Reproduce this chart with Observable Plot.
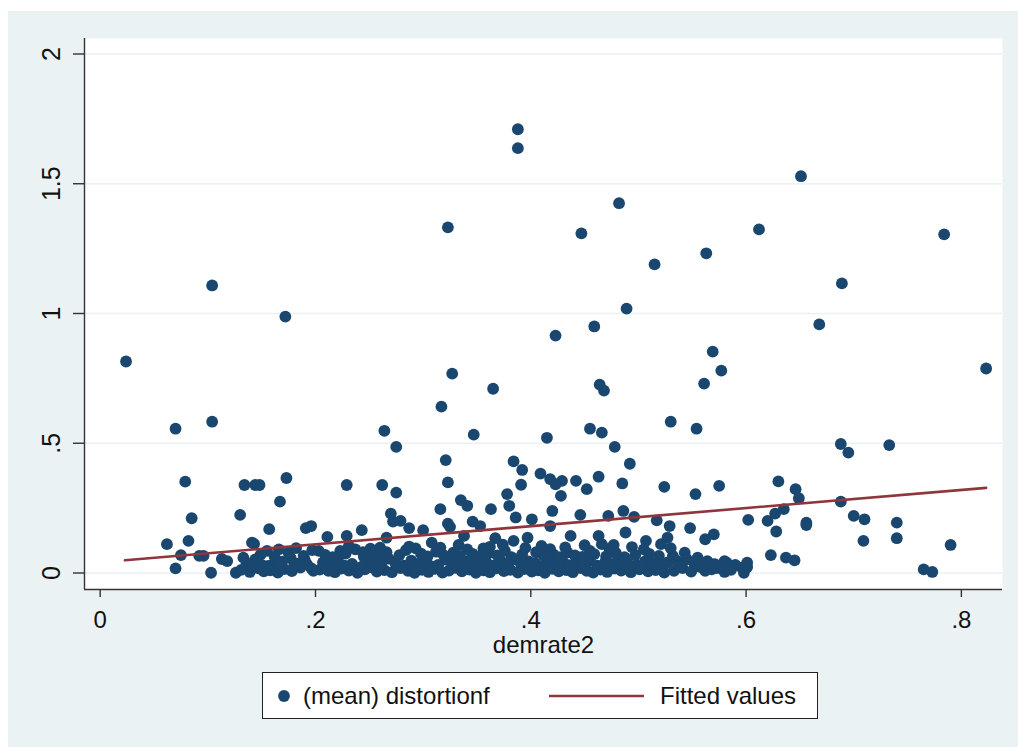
<!DOCTYPE html>
<html><head><meta charset="utf-8">
<script src="https://cdn.jsdelivr.net/npm/d3@7"></script>
<script src="https://cdn.jsdelivr.net/npm/@observablehq/plot@0.6"></script>
<style>
body{margin:0;background:#fff;font-family:"Liberation Sans",Arial,sans-serif;}
#wrap{position:absolute;left:8px;top:11px;width:1010px;height:736px;background:#eaf2f3;}
#chart{position:absolute;left:0;top:0;}
#legend{position:absolute;left:254px;top:661px;width:554px;height:45px;border:1px solid #222;background:#fff;font-size:24px;color:#111;}
#legend .item{position:absolute;top:0;height:45px;line-height:45px;white-space:nowrap;}
</style></head>
<body>
<div id="wrap"><div id="chart"></div><div id="legend"></div></div>
<script>
// demrate2 (x) vs (mean) distortionf (y) pairs
const upperPoints = [
 [0.024,0.815],[0.104,1.108],[0.172,0.988],[0.104,0.583],[0.070,0.556],[0.323,1.332],[0.388,1.710],[0.388,1.637],
 [0.482,1.425],[0.447,1.309],[0.515,1.189],[0.651,1.529],[0.612,1.324],[0.563,1.232],[0.784,1.305],[0.689,1.116],
 [0.489,1.019],[0.668,0.958],[0.459,0.950],[0.423,0.915],[0.569,0.853],[0.823,0.788],[0.577,0.780],[0.327,0.768],
 [0.561,0.730],[0.464,0.726],[0.468,0.703],[0.365,0.710],[0.317,0.641],[0.530,0.583],[0.415,0.521],[0.347,0.533],
 [0.554,0.556],[0.455,0.556],[0.466,0.541],[0.264,0.548],[0.688,0.497],[0.733,0.493],[0.695,0.464],[0.275,0.486],
 [0.478,0.486],[0.492,0.421],[0.321,0.435],[0.384,0.430],[0.392,0.397]
];
const middlePoints = [
 [0.079,0.352],[0.062,0.111],[0.070,0.018],[0.075,0.069],[0.082,0.124],[0.085,0.211],[0.092,0.066],[0.096,0.066],
 [0.103,0.001],[0.113,0.054],[0.118,0.046],[0.126,0.001],[0.130,0.224],[0.134,0.339],[0.144,0.339],[0.148,0.339],
 [0.141,0.117],[0.133,0.059],[0.157,0.169],[0.167,0.275],[0.173,0.366],[0.155,0.085],[0.166,0.091],[0.161,0.034],
 [0.177,0.057],[0.191,0.173],[0.196,0.181],[0.192,0.034],[0.198,0.008],[0.211,0.139],[0.203,0.085],[0.212,0.008],
 [0.229,0.339],[0.229,0.143],[0.223,0.085],[0.237,0.091],[0.243,0.165],[0.262,0.339],[0.270,0.229],[0.275,0.310],
 [0.260,0.098],[0.266,0.136],[0.279,0.201],[0.272,0.198],[0.287,0.173],[0.300,0.165],[0.323,0.349],[0.316,0.246],
 [0.323,0.190],[0.325,0.178],[0.335,0.281],[0.341,0.259],[0.338,0.143],[0.346,0.198],[0.353,0.181],[0.363,0.246],
 [0.367,0.134],[0.378,0.304],[0.380,0.259],[0.386,0.214],[0.401,0.207],[0.391,0.340],[0.409,0.383],[0.418,0.362],
 [0.423,0.342],[0.429,0.355],[0.428,0.297],[0.420,0.239],[0.418,0.181],[0.437,0.143],[0.442,0.355],[0.452,0.323],
 [0.446,0.224],[0.463,0.371],[0.485,0.345],[0.472,0.220],[0.486,0.239],[0.496,0.216],[0.463,0.143],[0.477,0.108],
 [0.488,0.156],[0.524,0.332],[0.517,0.203],[0.529,0.181],[0.527,0.136],[0.548,0.173],[0.553,0.304],[0.562,0.130],
 [0.570,0.149],[0.575,0.336],[0.507,0.124],[0.505,0.091],[0.521,0.111],[0.519,0.066],[0.293,0.095],[0.308,0.117],
 [0.341,0.091],[0.356,0.095],[0.384,0.124],[0.397,0.136],[0.421,0.072],[0.455,0.085],[0.143,0.112],[0.244,0.080],
 [0.328,0.078],[0.466,0.111],[0.536,0.046],[0.545,0.053],[0.555,0.059],[0.564,0.046],[0.571,0.034],[0.582,0.040],
 [0.559,0.040],[0.568,0.034],[0.562,0.008],[0.568,0.014],[0.580,0.046],[0.580,0.004],[0.602,0.205],[0.598,0.001],
 [0.601,0.023],[0.601,0.040],[0.620,0.201],[0.627,0.229],[0.635,0.246],[0.628,0.160],[0.630,0.353],[0.623,0.069],
 [0.637,0.059],[0.645,0.049],[0.646,0.323],[0.649,0.288],[0.656,0.194],[0.656,0.185],[0.688,0.275],[0.700,0.220],
 [0.710,0.207],[0.709,0.124],[0.740,0.194],[0.740,0.134],[0.765,0.014],[0.773,0.004],[0.790,0.108]
];
const lowerPoints = [
 [0.131,0.012],[0.139,0.004],[0.147,0.018],[0.152,0.006],[0.158,0.010],[0.165,0.002],[0.171,0.015],[0.178,0.007],
 [0.186,0.021],[0.204,0.013],[0.218,0.003],[0.224,0.017],[0.231,0.009],[0.239,0.001],[0.246,0.014],[0.252,0.022],
 [0.257,0.005],[0.264,0.011],[0.271,0.003],[0.279,0.019],[0.286,0.008],[0.292,0.001],[0.299,0.012],[0.305,0.004],
 [0.311,0.016],[0.318,0.002],[0.324,0.009],[0.330,0.020],[0.336,0.006],[0.343,0.013],[0.349,0.001],[0.356,0.010],
 [0.362,0.003],[0.368,0.018],[0.375,0.007],[0.381,0.012],[0.388,0.002],[0.394,0.015],[0.401,0.005],[0.407,0.010],
 [0.413,0.001],[0.420,0.016],[0.426,0.006],[0.433,0.011],[0.439,0.003],[0.446,0.019],[0.452,0.008],[0.458,0.002],
 [0.465,0.013],[0.471,0.004],[0.478,0.017],[0.484,0.009],[0.493,0.003],[0.501,0.014],[0.509,0.006],[0.516,0.011],
 [0.524,0.002],[0.533,0.008],[0.541,0.019],[0.549,0.005],
 [0.136,0.038],[0.144,0.052],[0.150,0.031],[0.169,0.044],[0.183,0.036],[0.190,0.050],[0.207,0.041],[0.214,0.029],
 [0.221,0.047],[0.234,0.035],[0.249,0.043],[0.261,0.032],[0.268,0.055],[0.274,0.040],[0.282,0.028],[0.289,0.048],
 [0.296,0.036],[0.303,0.044],[0.314,0.031],[0.321,0.052],[0.328,0.039],[0.333,0.027],[0.340,0.046],[0.347,0.034],
 [0.353,0.051],[0.359,0.040],[0.366,0.029],[0.372,0.047],[0.378,0.036],[0.385,0.053],[0.391,0.032],[0.398,0.045],
 [0.404,0.038],[0.411,0.027],[0.417,0.049],[0.423,0.035],[0.430,0.043],[0.436,0.030],[0.443,0.051],[0.449,0.037],
 [0.455,0.046],[0.462,0.028],[0.469,0.041],[0.475,0.034],[0.481,0.049],[0.490,0.038],[0.498,0.030],[0.506,0.045],
 [0.513,0.036],[0.521,0.027],[0.527,0.041],[0.552,0.037],[0.590,0.031],[0.596,0.021],
 [0.149,0.071],[0.162,0.063],[0.175,0.078],[0.189,0.066],[0.197,0.088],[0.209,0.070],[0.216,0.061],[0.228,0.075],
 [0.245,0.062],[0.253,0.072],[0.259,0.066],[0.266,0.080],[0.278,0.069],[0.284,0.088],[0.298,0.075],[0.304,0.064],
 [0.312,0.082],[0.319,0.069],[0.334,0.066],[0.346,0.074],[0.352,0.063],[0.361,0.077],[0.369,0.068],[0.376,0.085],
 [0.382,0.061],[0.392,0.072],[0.405,0.080],[0.412,0.066],[0.418,0.092],[0.427,0.061],[0.434,0.079],[0.441,0.068],
 [0.448,0.062],[0.459,0.073],[0.470,0.064],[0.479,0.077],[0.487,0.061],[0.497,0.069],[0.510,0.074],[0.532,0.066],
 [0.543,0.078],
 [0.142,0.024],[0.156,0.027],[0.180,0.025],[0.196,0.019],[0.210,0.022],[0.227,0.028],[0.243,0.024],[0.255,0.030],
 [0.277,0.026],[0.294,0.023],[0.308,0.025],[0.327,0.022],[0.339,0.029],[0.351,0.021],[0.364,0.026],[0.379,0.023],
 [0.396,0.026],[0.409,0.021],[0.424,0.025],[0.437,0.022],[0.450,0.027],[0.463,0.021],[0.476,0.026],[0.489,0.022],
 [0.503,0.024],[0.518,0.021],[0.537,0.027],[0.557,0.024],[0.573,0.019],[0.586,0.012],
 [0.182,0.096],[0.231,0.104],[0.251,0.094],[0.287,0.102],[0.316,0.098],[0.333,0.108],[0.362,0.101],[0.374,0.109],
 [0.395,0.097],[0.410,0.104],[0.432,0.099],[0.450,0.107],[0.473,0.094],[0.494,0.100],[0.530,0.096]
];
const fittedX = [0.023, 0.823];
const fittedY = [0.049, 0.328];
const xTicks = [0, 0.2, 0.4, 0.6, 0.8];
const xTickLabels = ["0", ".2", ".4", ".6", ".8"];
const yTicks = [0, 0.5, 1, 1.5, 2];
const yTickLabels = ["0", ".5", "1", "1.5", "2"];
const seriesLabels = ["(mean) distortionf", "Fitted values"];
const xTitle = "demrate2";

const dotColor = "#1a476f", lineColor = "#90353b", bg = "#eaf2f3";
const pts = [...upperPoints, ...middlePoints, ...lowerPoints].map(([x, y]) => ({x, y}));
const fit = fittedX.map((x, i) => ({x, y: fittedY[i]}));
const xDom = [-0.01458, 0.8382], yDom = [-0.0636, 2.0597];
const xLab = xTicks.map((v, i) => ({v, t: xTickLabels[i]}));
const yLab = yTicks.map((v, i) => ({v, t: yTickLabels[i]}));

const chart = Plot.plot({
  width: 1010, height: 660,
  marginTop: 27, marginLeft: 76, marginRight: 16, marginBottom: 82,
  style: {background: "transparent", fontFamily: "'Liberation Sans', Arial, sans-serif", fontSize: "24px", color: "#111"},
  x: {domain: xDom},
  y: {domain: yDom},
  marks: [
    Plot.frame({fill: "white", stroke: null}),
    Plot.gridY(yTicks, {stroke: bg, strokeOpacity: 1, strokeWidth: 1.6}),
    Plot.dot(pts, {x: "x", y: "y", r: 5.9, fill: dotColor, stroke: null}),
    Plot.line(fit, {x: "x", y: "y", stroke: lineColor, strokeWidth: 2.6}),
    Plot.ruleX([xDom[0]], {stroke: "#333", strokeWidth: 1.4}),
    Plot.ruleY([yDom[0]], {stroke: "#333", strokeWidth: 1.4}),
    Plot.axisX(xTicks, {tickSize: 8, tickFormat: () => "", label: null, stroke: "#333", strokeWidth: 1.4}),
    Plot.axisY(yTicks, {tickSize: 11, tickFormat: () => "", label: null, stroke: "#333", strokeWidth: 1.4}),
    Plot.text(xLab, {x: "v", text: "t", frameAnchor: "bottom", dy: 31, lineAnchor: "middle", fontSize: 24, fill: "#111"}),
    Plot.text(yLab, {y: "v", text: "t", frameAnchor: "left", dx: -32.5, rotate: -90, textAnchor: "middle", lineAnchor: "middle", fontSize: 25, fill: "#111"}),
    Plot.text([xTitle], {text: d => d, frameAnchor: "bottom", dy: 56, lineAnchor: "middle", fontSize: 24, fill: "#111"})
  ]
});
document.getElementById("chart").appendChild(chart);

const lg = document.getElementById("legend");
lg.innerHTML =
  `<svg class="item" style="left:14px" width="16" height="45"><circle cx="7" cy="23" r="5.9" fill="${dotColor}"/></svg>` +
  `<span class="item" style="left:40px">${seriesLabels[0]}</span>` +
  `<svg class="item" style="left:286px" width="96" height="45"><line x1="0" x2="95" y1="23" y2="23" stroke="${lineColor}" stroke-width="2.6"/></svg>` +
  `<span class="item" style="left:397px">${seriesLabels[1]}</span>`;
</script>
</body></html>
